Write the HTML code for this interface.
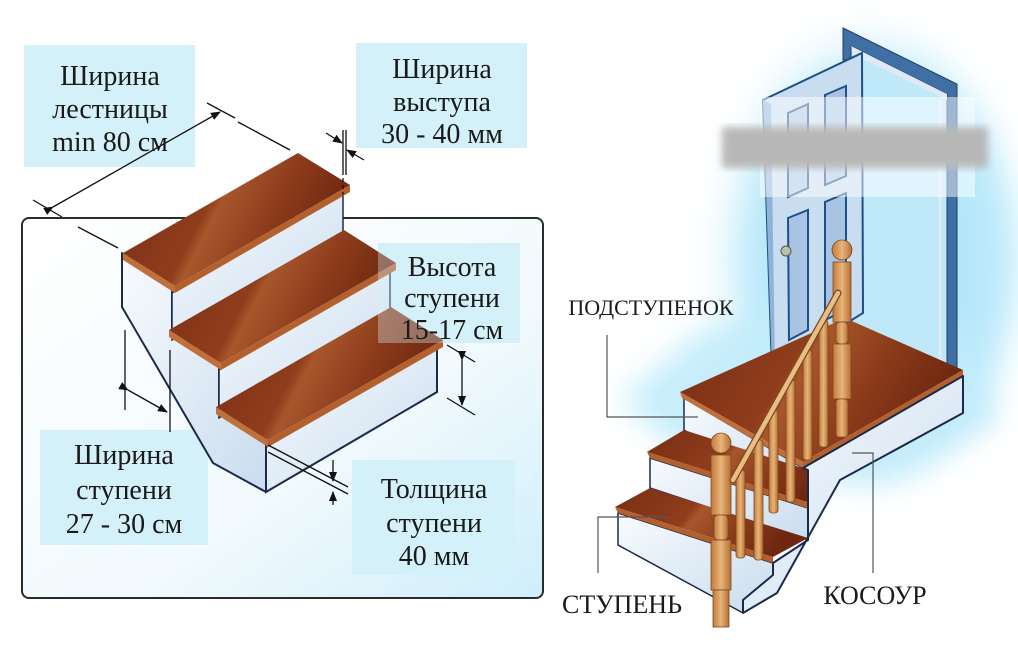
<!DOCTYPE html>
<html><head><meta charset="utf-8"><style>
html,body{margin:0;padding:0;background:#fff}
svg{display:block}
.t{font-family:"Liberation Serif",serif;fill:#1a1a1a;text-anchor:middle}
</style></head><body>
<svg width="1018" height="652" viewBox="0 0 1018 652" xmlns="http://www.w3.org/2000/svg">
<defs>
<linearGradient id="bg1" x1="0" y1="0" x2="1" y2="1"><stop offset="0" stop-color="#ffffff"/><stop offset="0.6" stop-color="#f2fafd"/><stop offset="1" stop-color="#cfeefa"/></linearGradient>
<linearGradient id="tr" x1="0" y1="0" x2="1" y2="0.3"><stop offset="0" stop-color="#7a2e14"/><stop offset="0.45" stop-color="#8f3d1c"/><stop offset="0.5" stop-color="#a8562c"/><stop offset="0.75" stop-color="#8a3a1a"/><stop offset="1" stop-color="#6e2810"/></linearGradient>
<linearGradient id="rs" x1="0" y1="0" x2="1" y2="1"><stop offset="0" stop-color="#f8fbfe"/><stop offset="1" stop-color="#c9dcee"/></linearGradient>
<radialGradient id="glow" cx="0.55" cy="0.5" r="0.55"><stop offset="0" stop-color="#9fdff6"/><stop offset="0.7" stop-color="#bdeafa"/><stop offset="1" stop-color="#ffffff" stop-opacity="0"/></radialGradient>
<linearGradient id="wood" x1="0" y1="0" x2="1" y2="0"><stop offset="0" stop-color="#c47a3c"/><stop offset="0.5" stop-color="#e7b57a"/><stop offset="1" stop-color="#b86e34"/></linearGradient>
<filter id="bl"><feGaussianBlur stdDeviation="4"/></filter>
<filter id="bl2"><feGaussianBlur stdDeviation="14"/></filter>
<marker id="ar" markerWidth="10" markerHeight="8" refX="9" refY="4" orient="auto" markerUnits="userSpaceOnUse"><path d="M0,0 L10,4 L0,8 z" fill="#111"/></marker>
</defs>

<rect x="22" y="218" width="521" height="380" rx="7" fill="url(#bg1)" stroke="#2b2b2b" stroke-width="2"/>

<rect x="24" y="45" width="171" height="122" fill="#d4f0f9"/>
<rect x="356" y="43" width="171" height="105" fill="#d4f0f9"/>
<rect x="378" y="243" width="142" height="100" fill="#d4f0f9"/>
<rect x="40" y="430" width="168" height="115" fill="#d4f0f9"/>
<rect x="352" y="460" width="163" height="115" fill="#d4f0f9"/>

<polygon points="122,253 172,286 172,330 219,363 219,407 266,440 266,492 213,463 122,307" fill="url(#rs)" stroke="#1c2a4a" stroke-width="2" stroke-linejoin="round"/>

<polygon points="172,293 343,193 343,240 172,340" fill="url(#rs)" stroke="#1c2a4a" stroke-width="1.5"/>
<polygon points="123,253 298,153 350,185 175,286" fill="url(#tr)"/>
<polygon points="123,253 175,286 175,293 123,260" fill="#c0703c"/>
<polygon points="175,286 350,185 350,192 175,293" fill="#b3602e"/>
<polygon points="219,370 390,270 390,318 219,418" fill="url(#rs)" stroke="#1c2a4a" stroke-width="1.5"/>
<polygon points="169,330 344,230 396,263 221,363" fill="url(#tr)"/>
<polygon points="169,330 221,363 221,370 169,337" fill="#c0703c"/>
<polygon points="221,363 396,263 396,270 221,370" fill="#b3602e"/>
<polygon points="266,447 437,347 437,392 266,492" fill="url(#rs)" stroke="#1c2a4a" stroke-width="2"/>
<polygon points="216,407 391,307 443,340 268,440" fill="url(#tr)"/>
<polygon points="216,407 268,440 268,447 216,414" fill="#c0703c"/>
<polygon points="268,440 443,340 443,347 268,447" fill="#b3602e"/>
<rect x="378" y="243" width="142" height="100" fill="#d4f0f9" opacity="0.35"/>

<g stroke="#111" stroke-width="1.3" fill="none">
<line x1="53" y1="207" x2="220" y2="112" marker-end="url(#ar)" marker-start="url(#ar)"/>
<line x1="33" y1="200" x2="62" y2="217"/>
<line x1="207" y1="103" x2="235" y2="118"/>
<line x1="238" y1="122" x2="290" y2="150"/>
<line x1="78" y1="227" x2="118" y2="248"/>
<line x1="343" y1="130" x2="343" y2="175"/><line x1="346" y1="130" x2="346" y2="175"/>
<line x1="343" y1="178" x2="343" y2="195" stroke-dasharray="4,3"/>
<line x1="326" y1="133" x2="342" y2="143" marker-end="url(#ar)"/>
<line x1="364" y1="160" x2="347" y2="150" marker-end="url(#ar)"/>
<line x1="447" y1="345" x2="475" y2="362"/><line x1="447" y1="398" x2="475" y2="415"/>
<line x1="462" y1="360" x2="462" y2="405" marker-end="url(#ar)" marker-start="url(#ar)"/>
<line x1="125" y1="330" x2="125" y2="410"/><line x1="170" y1="350" x2="170" y2="432"/>
<line x1="128" y1="390" x2="167" y2="412" marker-end="url(#ar)" marker-start="url(#ar)"/>
<line x1="268" y1="445" x2="348" y2="487"/><line x1="268" y1="452" x2="348" y2="494"/>
<line x1="333" y1="460" x2="333" y2="481" marker-end="url(#ar)"/>
<line x1="333" y1="505" x2="333" y2="492" marker-end="url(#ar)"/>
</g>

<g class="t" font-size="28">
<text x="110" y="85">Ширина</text><text x="110" y="118">лестницы</text><text x="110" y="151">min 80 см</text>
<text x="442" y="78">Ширина</text><text x="442" y="111">выступа</text><text x="442" y="143">30 - 40 мм</text>
<text x="452" y="276">Высота</text><text x="452" y="307">ступени</text><text x="452" y="339">15-17 см</text>
<text x="124" y="464">Ширина</text><text x="124" y="499">ступени</text><text x="124" y="533">27 - 30 см</text>
<text x="434" y="498">Толщина</text><text x="434" y="532">ступени</text><text x="434" y="565">40 мм</text>
</g>

<ellipse cx="860" cy="260" rx="165" ry="240" fill="url(#glow)" filter="url(#bl2)"/>
<polygon points="620,400 700,330 800,300 960,330 1000,420 880,480 700,470" fill="#c2ecfb" filter="url(#bl2)" opacity="0.9"/>
<polygon points="851,50 947,98 947,370 851,370" fill="#bfe9f9"/>

<polygon points="843,28 957,84 957,368 947,368 947,94 851,46 851,60 843,60" fill="#3f6fa3" stroke="#1b3e6e" stroke-width="1"/>
<polygon points="851,46 947,94 947,100 853,54" fill="#dfeaf5"/>
<line x1="940" y1="100" x2="940" y2="368" stroke="#dfeaf5" stroke-width="3"/>
<polygon points="763,100 862,53 863,313 772,370" fill="#c9ddf0" stroke="#1e4f86" stroke-width="2"/>
<polygon points="763,100 771,104 775,368 772,370" fill="#8fb3d8"/>
<g fill="#a9c4e2" stroke="#1e4f86" stroke-width="2">
<polygon points="788,113 808,104 808,188 788,197"/>
<polygon points="825,95 846,86 846,176 825,185"/>
<polygon points="788,218 808,210 808,330 789,340"/>
<polygon points="825,202 846,193 846,310 825,320"/>
</g>
<circle cx="786" cy="251" r="5" fill="#b9c3a8" stroke="#555"/>

<rect x="760" y="97" width="215" height="100" fill="#fff" opacity="0.5"/>
<rect x="722" y="127" width="266" height="41" fill="#b8b8b8" filter="url(#bl)"/>

<polygon points="684,398 803,468 803,500 684,430" fill="url(#rs)" stroke="#1c2a4a" stroke-width="1.5"/>
<polygon points="680,392 845,318 963,370 803,462" fill="url(#tr)"/>
<polygon points="680,392 803,462 803,468 682,398" fill="#c0703c"/>
<polygon points="803,462 963,370 963,376 803,468" fill="#b3602e"/>
<polygon points="650,458 808,508 808,540 650,488" fill="url(#rs)" stroke="#1c2a4a" stroke-width="1.5"/>
<polygon points="647,452 684,430 840,480 807,502" fill="url(#tr)"/>
<polygon points="647,452 807,502 807,508 650,458" fill="#b3602e"/>
<polygon points="618,513 773,563 773,585 743,613 618,545" fill="url(#rs)" stroke="#1c2a4a" stroke-width="1.5"/>
<polygon points="615,507 650,488 808,538 773,557" fill="url(#tr)"/>
<polygon points="615,507 773,557 773,563 618,513" fill="#b3602e"/>
<polygon points="803,468 963,376 963,413 840,480 777,593 743,613 743,600 773,575 773,563 808,540 808,470" fill="url(#rs)" stroke="#1c2a4a" stroke-width="2" stroke-linejoin="round"/>

<g fill="url(#wood)" stroke="#7a4a1e" stroke-width="0.8">
<rect x="736" y="470" width="9" height="88" rx="3"/>
<rect x="754" y="440" width="9" height="120" rx="3"/>
<rect x="769" y="410" width="9" height="103" rx="3"/>
<rect x="786" y="380" width="9" height="122" rx="3"/>
<rect x="803" y="350" width="9" height="110" rx="3"/>
<rect x="819" y="320" width="9" height="127" rx="3"/>
<circle cx="842" cy="250" r="10"/>
<rect x="833" y="262" width="18" height="60"/>
<rect x="836" y="322" width="12" height="22" rx="4"/>
<rect x="833" y="344" width="18" height="55"/>
<rect x="836" y="399" width="12" height="38" rx="3"/>
<circle cx="721" cy="443" r="10"/>
<rect x="711" y="455" width="20" height="60"/>
<rect x="714" y="515" width="14" height="25" rx="4"/>
<rect x="711" y="540" width="20" height="50"/>
<rect x="713" y="590" width="16" height="37"/>
</g>
<line x1="733" y1="480" x2="838" y2="293" stroke="#7a4a1e" stroke-width="7" stroke-linecap="round"/>
<line x1="733" y1="480" x2="838" y2="293" stroke="#e9bd86" stroke-width="4.5" stroke-linecap="round"/>

<g stroke="#555" stroke-width="1.2" fill="none">
<polyline points="607,335 607,417 698,417"/>
<polyline points="598,573 598,517 670,517"/>
<polyline points="852,453 873,453 873,573"/>
</g>
<g class="t">
<text x="651" y="315" font-size="22">ПОДСТУПЕНОК</text>
<text x="622" y="613" font-size="26">СТУПЕНЬ</text>
<text x="875" y="604" font-size="26">КОСОУР</text>
</g>
</svg>
</body></html>
